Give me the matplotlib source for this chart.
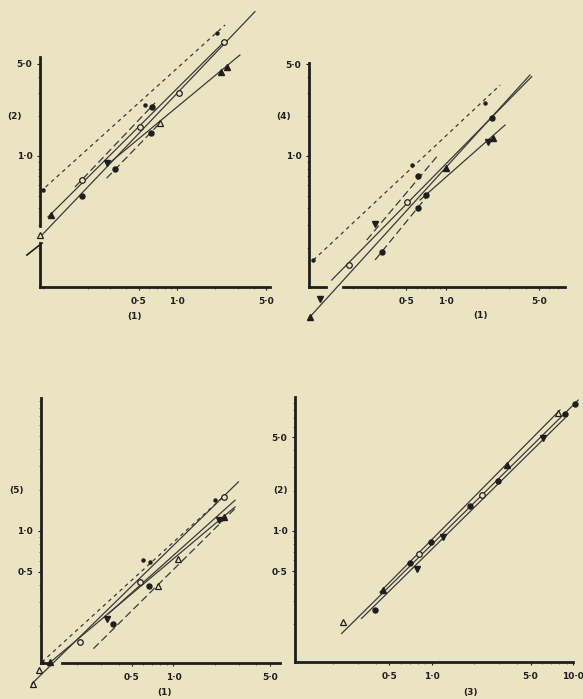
import matplotlib
matplotlib.use('Agg')
import matplotlib.pyplot as plt
from matplotlib.ticker import NullFormatter

BG = '#ebe4c3'
INK = '#1e1e1e'
LINE = '#3a3a3a'
W, H = 583, 699

# ---- panel 1 : (1) vs (2) ----
p1_dot_x = [0.090, 0.561, 2.05]
p1_dot_y = [0.552, 2.44, 8.56]
p1_circ_x = [0.634, 0.179, 0.327, 0.622]
p1_circ_y = [2.37, 0.497, 0.792, 1.50]
p1_ring_x = [0.179, 0.513, 1.04, 2.33]
p1_ring_y = [0.657, 1.65, 2.99, 7.39]
p1_tri_x = [0.104, 2.21, 2.45]
p1_tri_y = [0.356, 4.37, 4.77]
p1_otri_x = [0.0846, 0.736]
p1_otri_y = [0.251, 1.79]
p1_dtri_x = [0.285]
p1_dtri_y = [0.880]
p1_fit_x = [(0.0846, 2.38), (0.159, 0.673), (0.0846, 4.08), (0.0977, 2.25), (0.283, 3.11), (0.281, 0.736)]
p1_fit_y = [(0.532, 9.9), (0.581, 2.53), (0.242, 12.5), (0.344, 7.10), (0.854, 5.85), (0.677, 1.78)]
p1_fit_ls = ['short', 'long', 'solid', 'solid', 'solid', 'long']

# ---- panel 2 : (1) vs (4) ----
p2_dot_x = [0.1005, 0.552, 1.96]
p2_dot_y = [0.162, 0.854, 2.54]
p2_circ_x = [0.619, 0.328, 0.619, 0.707, 2.21]
p2_circ_y = [0.705, 0.1874, 0.401, 0.506, 1.93]
p2_ring_x = [0.506, 0.1875]
p2_ring_y = [0.450, 0.1485]
p2_tri_x = [0.0949, 1.0, 2.27]
p2_tri_y = [0.0601, 0.806, 1.363]
p2_otri_x = []
p2_otri_y = []
p2_dtri_x = [0.292, 2.08, 0.113]
p2_dtri_y = [0.304, 1.285, 0.0815]
p2_fit_x = [(0.1005, 2.55), (0.253, 0.851), (0.292, 0.716), (0.0949, 4.28), (0.138, 4.41), (0.637, 2.78)]
p2_fit_y = [(0.162, 3.46), (0.230, 0.988), (0.162, 0.491), (0.0601, 4.13), (0.1142, 4.01), (0.463, 1.72)]
p2_fit_ls = ['short', 'long', 'long', 'solid', 'solid', 'solid']

# ---- panel 3 : (1) vs (5) ----
p3_dot_x = [0.1112, 0.606, 0.678, 2.005]
p3_dot_y = [0.1088, 0.616, 0.592, 1.682]
p3_circ_x = [0.367, 0.667]
p3_circ_y = [0.2085, 0.392]
p3_ring_x = [0.211, 0.574, 2.34]
p3_ring_y = [0.1527, 0.422, 1.78]
p3_tri_x = [0.1278, 2.34]
p3_tri_y = [0.1088, 1.267]
p3_otri_x = [0.0957, 1.076, 0.1063, 0.771]
p3_otri_y = [0.0755, 0.622, 0.0957, 0.392]
p3_dtri_x = [0.329, 2.14]
p3_dtri_y = [0.227, 1.198]
p3_fit_x = [(0.1112, 2.37), (0.0942, 2.96), (0.338, 2.80), (0.1278, 2.80), (0.263, 2.88)]
p3_fit_y = [(0.1088, 1.83), (0.0755, 2.29), (0.247, 1.68), (0.1083, 1.50), (0.1365, 1.50)]
p3_fit_ls = ['short', 'solid', 'solid', 'solid', 'long']

# ---- panel 4 : (3) vs (2) ----
p4_dot_x = []
p4_dot_y = []
p4_circ_x = [0.394, 0.698, 0.979, 1.86, 2.95, 8.78, 10.3]
p4_circ_y = [0.255, 0.576, 0.827, 1.53, 2.37, 7.47, 8.88]
p4_ring_x = [0.813, 2.25]
p4_ring_y = [0.669, 1.85]
p4_tri_x = [0.4515, 3.42]
p4_tri_y = [0.364, 3.10]
p4_otri_x = [0.235, 7.87]
p4_otri_y = [0.2084, 7.64]
p4_dtri_x = [0.787, 1.20, 6.15]
p4_dtri_y = [0.514, 0.892, 4.92]
p4_fit_x = [(0.229, 10.9), (0.428, 8.09), (0.317, 8.78)]
p4_fit_y = [(0.1706, 9.51), (0.348, 8.01), (0.221, 6.98)]
p4_fit_ls = ['solid', 'solid', 'solid']

STYLES = {'solid': '-', 'short': (0, (3, 3)), 'long': (0, (6, 3))}


def rect(left, top, right, bottom):
    return [left / W, 1 - bottom / H, (right - left) / W, (bottom - top) / H]


def panel(r, xlim, ylim, xt, xl, yt, yl, dots, circ, ring, tri, otri, dtri, fx, fy, fls):
    ax = fig.add_axes(r)
    ax.set_xscale('log')
    ax.set_yscale('log')
    ax.set_xlim(xlim)
    ax.set_ylim(ylim)
    ax.set_facecolor('none')
    for s in ['top', 'right']:
        ax.spines[s].set_visible(False)
    for s in ['left', 'bottom']:
        ax.spines[s].set_linewidth(2.0)
        ax.spines[s].set_color(INK)
    ax.set_xticks(xt)
    ax.set_xticklabels(xl)
    ax.set_yticks(yt)
    ax.set_yticklabels(yl)
    ax.xaxis.set_minor_formatter(NullFormatter())
    ax.yaxis.set_minor_formatter(NullFormatter())
    ax.tick_params(which='major', length=2.5, width=0.8, color=INK, labelsize=6.5, pad=3)
    ax.tick_params(axis='x', which='major', pad=5)
    ax.tick_params(which='minor', length=1.5, width=0.6, color='#555555')
    for lab in ax.get_xticklabels() + ax.get_yticklabels():
        lab.set_fontweight('bold')
        lab.set_color(INK)

    for (x0, x1), (y0, y1), ls in zip(fx, fy, fls):
        ax.plot([x0, x1], [y0, y1], color=LINE, lw=0.9, ls=STYLES[ls], clip_on=False)

    kw = dict(ls='none', clip_on=False, zorder=3)
    ax.plot(dots[0], dots[1], marker='o', ms=2.2, color=INK, **kw)
    ax.plot(circ[0], circ[1], marker='o', ms=3.6, color=INK, **kw)
    ax.plot(ring[0], ring[1], marker='o', ms=4.0, mfc=BG, mec=INK, mew=0.9, **kw)
    ax.plot(tri[0], tri[1], marker='^', ms=4.2, color=INK, **kw)
    ax.plot(otri[0], otri[1], marker='^', ms=4.6, mfc=BG, mec=INK, mew=0.9, **kw)
    ax.plot(dtri[0], dtri[1], marker='v', ms=4.6, color=INK, **kw)
    return ax


fig = plt.figure(figsize=(W / 100, H / 100), dpi=100)
fig.patch.set_facecolor(BG)

lab05 = ['0·5', '1·0', '5·0']

ax1 = panel(rect(40, 57, 270, 287), (0.0846, 5.35), (0.101, 5.65),
            [0.5, 1, 5], lab05, [1, 5], ['1·0', '5·0'],
            (p1_dot_x, p1_dot_y), (p1_circ_x, p1_circ_y), (p1_ring_x, p1_ring_y),
            (p1_tri_x, p1_tri_y), (p1_otri_x, p1_otri_y), (p1_dtri_x, p1_dtri_y),
            p1_fit_x, p1_fit_y, p1_fit_ls)
# broken y axis with slash
ax1.spines['left'].set_bounds(0.101, 0.218)
ax1.axvline(0.0846, ymin=0.265, ymax=1, color=INK, lw=2.0, clip_on=False)
ax1.plot([-0.057, 0.009], [0.139, 0.191], transform=ax1.transAxes, color=INK, lw=1.2, clip_on=False)

ax2 = panel(rect(309, 63, 565, 287), (0.093, 7.85), (0.101, 5.09),
            [0.5, 1, 5], lab05, [1, 5], ['1·0', '5·0'],
            (p2_dot_x, p2_dot_y), (p2_circ_x, p2_circ_y), (p2_ring_x, p2_ring_y),
            (p2_tri_x, p2_tri_y), (p2_otri_x, p2_otri_y), (p2_dtri_x, p2_dtri_y),
            p2_fit_x, p2_fit_y, p2_fit_ls)
ax2.spines['bottom'].set_visible(False)
ax2.axhline(0.101, xmin=0, xmax=0.066, color=INK, lw=2.0, clip_on=False)
ax2.axhline(0.101, xmin=0.133, xmax=1, color=INK, lw=2.0, clip_on=False)

ax3 = panel(rect(40.7, 398, 280, 662.5), (0.109, 5.93), (0.108, 9.46),
            [0.5, 1, 5], lab05, [0.5, 1], ['0·5', '1·0'],
            (p3_dot_x, p3_dot_y), (p3_circ_x, p3_circ_y), (p3_ring_x, p3_ring_y),
            (p3_tri_x, p3_tri_y), (p3_otri_x, p3_otri_y), (p3_dtri_x, p3_dtri_y),
            p3_fit_x, p3_fit_y, p3_fit_ls)
ax3.spines['bottom'].set_visible(False)
ax3.axhline(0.108, xmin=0, xmax=0.025, color=INK, lw=2.0, clip_on=False)
ax3.axhline(0.108, xmin=0.089, xmax=1, color=INK, lw=2.0, clip_on=False)

ax4 = panel(rect(295, 396.7, 573, 661.7), (0.107, 10.0), (0.105, 10.07),
            [0.5, 1, 5, 10], ['0·5', '1·0', '5·0', '10·0'], [0.5, 1, 5], ['0·5', '1·0', '5·0'],
            (p4_dot_x, p4_dot_y), (p4_circ_x, p4_circ_y), (p4_ring_x, p4_ring_y),
            (p4_tri_x, p4_tri_y), (p4_otri_x, p4_otri_y), (p4_dtri_x, p4_dtri_y),
            p4_fit_x, p4_fit_y, p4_fit_ls)

# axis captions
caps = [('(2)', 15, 116), ('(1)', 134, 317), ('(4)', 284, 117), ('(1)', 480, 316),
        ('(5)', 17, 490), ('(1)', 164, 693), ('(2)', 280, 490), ('(3)', 470, 692)]
for t, x, y in caps:
    fig.text(x / W, 1 - y / H, t, ha='center', va='center', fontsize=6.5,
             fontweight='bold', color=INK)

fig.savefig('out.png', dpi=100, facecolor=BG)
